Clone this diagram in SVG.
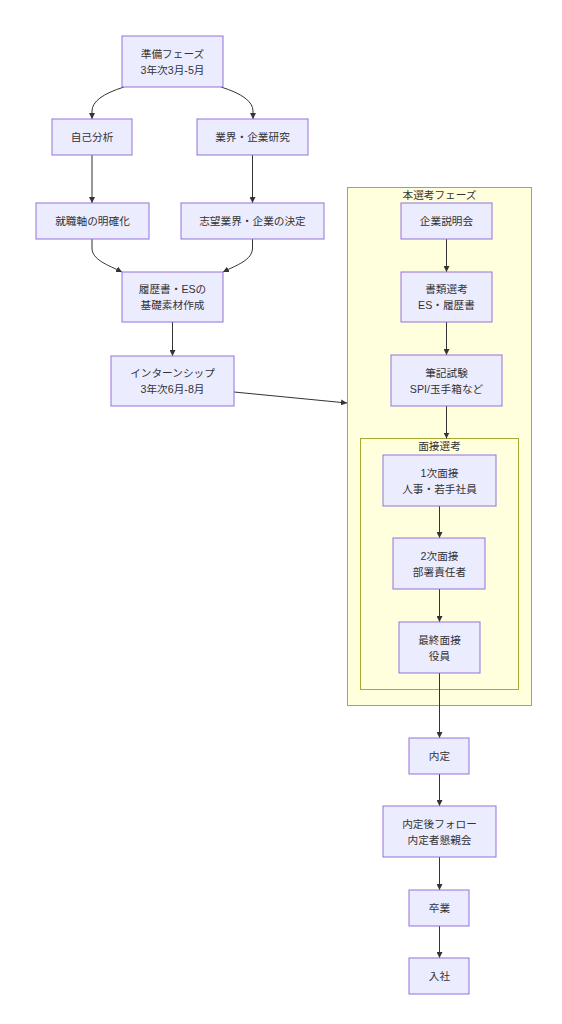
<svg xmlns="http://www.w3.org/2000/svg" width="562" height="1024" viewBox="0 0 562 1024">
<style>
.bg{fill:#ffffff}
.cluster rect{fill:#ffffde;stroke:#aaaa33;stroke-width:1}
.node rect{fill:#ececff;stroke:#9370db;stroke-width:1}
text{font-family:"Liberation Sans","Noto Sans CJK JP",sans-serif;font-size:10.67px;fill:#333333;text-anchor:middle}
.edges path{fill:none;stroke:#333333;stroke-width:1}
</style>
<defs>
<marker id="arr" viewBox="0 0 10 10" refX="10" refY="5" markerWidth="6" markerHeight="6" markerUnits="userSpaceOnUse" orient="auto">
<path d="M0,0 L10,5 L0,10 z" fill="#333333"/>
</marker>
</defs>
<rect class="bg" x="0" y="0" width="562" height="1024"/>

<g id="cluster-honsenkou" class="cluster">
<rect x="347.5" y="187.5" width="184" height="518"/>
<text x="439.5" y="199">本選考フェーズ</text>
</g>
<g id="cluster-mensetsu" class="cluster">
<rect x="360.5" y="438.5" width="158" height="251"/>
<text x="439.5" y="450">面接選考</text>
</g>

<g id="edges" class="edges">
<path d="M124,87 Q92,97 92,111 L92,119" marker-end="url(#arr)"/>
<path d="M221,87 Q253,97 253,111 L253,119" marker-end="url(#arr)"/>
<path d="M92,155 L92,203" marker-end="url(#arr)"/>
<path d="M252.5,155 L252.5,203" marker-end="url(#arr)"/>
<path d="M92,239 L92,248 C92,260 108,265 122,272" marker-end="url(#arr)"/>
<path d="M252.5,239 L252.5,248 C252.5,260 237,265 223,272" marker-end="url(#arr)"/>
<path d="M172.5,322 L172.5,356" marker-end="url(#arr)"/>
<path d="M234,392 L347,403" marker-end="url(#arr)"/>
<path d="M446.5,239 L446.5,272" marker-end="url(#arr)"/>
<path d="M446.5,322 L446.5,355" marker-end="url(#arr)"/>
<path d="M446.5,406 L446.5,438.5" marker-end="url(#arr)"/>
<path d="M439.5,506 L439.5,538" marker-end="url(#arr)"/>
<path d="M439.5,589 L439.5,622" marker-end="url(#arr)"/>
<path d="M439.5,673 L439.5,738" marker-end="url(#arr)"/>
<path d="M439.5,774 L439.5,806" marker-end="url(#arr)"/>
<path d="M439.5,857 L439.5,890" marker-end="url(#arr)"/>
<path d="M439.5,926 L439.5,958" marker-end="url(#arr)"/>
</g>

<g id="node-junbi" class="node">
<rect x="122" y="36" width="101" height="51"/>
<text x="172.5" y="57.5">準備フェーズ</text>
<text x="172.5" y="73.5">3年次3月-5月</text>
</g>
<g id="node-jikobunseki" class="node">
<rect x="52" y="119" width="80" height="36"/>
<text x="92" y="141">自己分析</text>
</g>
<g id="node-gyoukai" class="node">
<rect x="197" y="119" width="111" height="36"/>
<text x="252.5" y="141">業界・企業研究</text>
</g>
<g id="node-shushokujiku" class="node">
<rect x="36" y="203" width="113" height="36"/>
<text x="92.5" y="225">就職軸の明確化</text>
</g>
<g id="node-shibou" class="node">
<rect x="181" y="203" width="143" height="36"/>
<text x="252.5" y="225">志望業界・企業の決定</text>
</g>
<g id="node-rirekisho" class="node">
<rect x="122" y="272" width="101" height="50"/>
<text x="172.5" y="293">履歴書・ESの</text>
<text x="172.5" y="309">基礎素材作成</text>
</g>
<g id="node-intern" class="node">
<rect x="111" y="356" width="123" height="50"/>
<text x="172.5" y="377">インターンシップ</text>
<text x="172.5" y="393">3年次6月-8月</text>
</g>
<g id="node-setsumeikai" class="node">
<rect x="401" y="203" width="91" height="36"/>
<text x="446.5" y="225">企業説明会</text>
</g>
<g id="node-shorui" class="node">
<rect x="401" y="272" width="91" height="50"/>
<text x="446.5" y="293">書類選考</text>
<text x="446.5" y="309">ES・履歴書</text>
</g>
<g id="node-hikki" class="node">
<rect x="391" y="355" width="111" height="51"/>
<text x="446.5" y="376.5">筆記試験</text>
<text x="446.5" y="392.5">SPI/玉手箱など</text>
</g>
<g id="node-mensetsu1" class="node">
<rect x="383" y="455" width="113" height="51"/>
<text x="439.5" y="476.5">1次面接</text>
<text x="439.5" y="492.5">人事・若手社員</text>
</g>
<g id="node-mensetsu2" class="node">
<rect x="393" y="538" width="92" height="51"/>
<text x="439.5" y="559.5">2次面接</text>
<text x="439.5" y="575.5">部署責任者</text>
</g>
<g id="node-saishu" class="node">
<rect x="399" y="622" width="81" height="51"/>
<text x="439.5" y="643.5">最終面接</text>
<text x="439.5" y="659.5">役員</text>
</g>
<g id="node-naitei" class="node">
<rect x="409" y="738" width="60" height="36"/>
<text x="439.5" y="760">内定</text>
</g>
<g id="node-follow" class="node">
<rect x="383" y="806" width="113" height="51"/>
<text x="439.5" y="827.5">内定後フォロー</text>
<text x="439.5" y="843.5">内定者懇親会</text>
</g>
<g id="node-sotsugyo" class="node">
<rect x="409" y="890" width="60" height="36"/>
<text x="439.5" y="912">卒業</text>
</g>
<g id="node-nyusha" class="node">
<rect x="409" y="958" width="60" height="36"/>
<text x="439.5" y="980">入社</text>
</g>
</svg>
